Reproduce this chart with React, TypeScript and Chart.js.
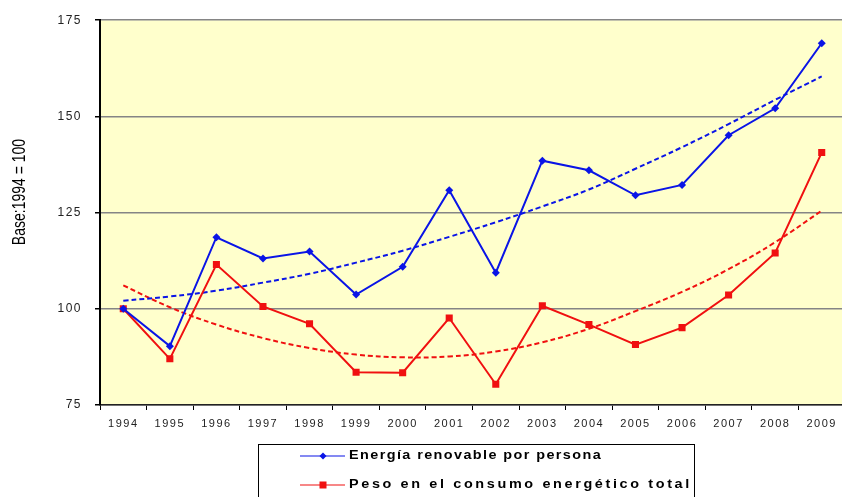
import React, { useEffect, useRef } from "react";
import { Chart, registerables } from "chart.js";

Chart.register(...registerables);

const years = ["1994", "1995", "1996", "1997", "1998", "1999", "2000", "2001", "2002", "2003", "2004", "2005", "2006", "2007", "2008", "2009"];
const renewablePerPerson = [100, 90.3, 118.6, 113.1, 114.9, 103.7, 110.9, 130.8, 109.4, 138.5, 136.0, 129.5, 132.2, 145.1, 152.1, 169.0];
const shareOfTotal = [100, 87.0, 111.5, 100.6, 96.1, 83.5, 83.4, 97.6, 80.4, 100.8, 95.9, 90.7, 95.1, 103.6, 114.5, 140.6];
const renewableTrend = [102.1, 103.2, 104.7, 106.8, 109.1, 112.0, 115.1, 118.7, 122.5, 126.6, 131.0, 136.4, 142.0, 148.0, 154.3, 160.4];
const shareTrend = [106.1, 100.4, 95.9, 92.4, 89.8, 88.1, 87.4, 87.6, 88.9, 91.3, 94.8, 99.4, 104.4, 110.3, 117.3, 125.5];
const yTicks = [75, 100, 125, 150, 175];
const seriesNames = ["Energía renovable por persona", "Peso en el consumo energético total"];
const axisTitle = "Base:1994 = 100";

const BLUE = "#0a14e6";
const RED = "#f01010";

const decorPlugin = {
  id: "decor",
  beforeDraw(chart: any) {
    const { ctx, chartArea } = chart;
    ctx.save();
    ctx.fillStyle = "#ffffcc";
    ctx.fillRect(chartArea.left, chartArea.top, chartArea.right - chartArea.left, chartArea.bottom - chartArea.top);
    ctx.restore();
    ctx.letterSpacing = "1.5px";
  },
  afterDraw(chart: any) {
    const { ctx } = chart;
    ctx.save();
    ctx.letterSpacing = "0px";
    // y axis title
    ctx.save();
    ctx.translate(19.5, 192);
    ctx.scale(1.35, 1);
    ctx.rotate(-Math.PI / 2);
    ctx.fillStyle = "#000";
    ctx.font = "14px 'Liberation Sans', Arial, sans-serif";
    ctx.textAlign = "center";
    ctx.textBaseline = "middle";
    ctx.fillText(axisTitle, 0, 0);
    ctx.restore();

    // legend box
    ctx.strokeStyle = "#000";
    ctx.lineWidth = 1;
    ctx.strokeRect(258.5, 444.5, 436, 80);
    const rows = [
      { y: 456, color: BLUE, style: "diamond", text: seriesNames[0], width: 253 },
      { y: 485, color: RED, style: "square", text: seriesNames[1], width: 343 },
    ];
    rows.forEach((r) => {
      ctx.strokeStyle = r.color;
      ctx.lineWidth = 1.2;
      ctx.beginPath();
      ctx.moveTo(300, r.y);
      ctx.lineTo(345, r.y);
      ctx.stroke();
      ctx.fillStyle = r.color;
      ctx.beginPath();
      if (r.style === "diamond") {
        ctx.moveTo(323, r.y - 3.5);
        ctx.lineTo(326.5, r.y);
        ctx.lineTo(323, r.y + 3.5);
        ctx.lineTo(319.5, r.y);
        ctx.closePath();
        ctx.fill();
      } else {
        ctx.fillRect(319.5, r.y - 3.5, 7, 7);
      }
      const sx = 1.2;
      ctx.font = "bold 12px 'Liberation Sans', Arial, sans-serif";
      ctx.letterSpacing = "0px";
      const natural = ctx.measureText(r.text).width;
      const n = r.text.length;
      const sp = Math.max(0, (r.width / sx - natural) / n);
      ctx.letterSpacing = sp.toFixed(2) + "px";
      ctx.save();
      ctx.translate(349, r.y);
      ctx.scale(sx, 1);
      ctx.fillStyle = "#000";
      ctx.textAlign = "left";
      ctx.textBaseline = "middle";
      ctx.fillText(r.text, 0, 0);
      ctx.restore();
    });
    ctx.restore();
  },
};

export default function App() {
  const ref = useRef<HTMLCanvasElement | null>(null);
  useEffect(() => {
    if (!ref.current) return;
    const chart = new Chart(ref.current, {
      type: "line",
      data: {
        labels: years,
        datasets: [
          {
            label: seriesNames[0],
            data: renewablePerPerson,
            borderColor: BLUE,
            backgroundColor: BLUE,
            borderWidth: 2,
            pointStyle: "rectRot",
            pointRadius: 4,
            pointBorderWidth: 0,
            tension: 0,
          },
          {
            label: seriesNames[1],
            data: shareOfTotal,
            borderColor: RED,
            backgroundColor: RED,
            borderWidth: 2,
            pointStyle: "rect",
            pointRadius: 5,
            pointBorderWidth: 0,
            tension: 0,
          },
          {
            label: "Tendencia " + seriesNames[0],
            data: renewableTrend,
            borderColor: BLUE,
            borderWidth: 2,
            borderDash: [5, 3],
            pointRadius: 0,
            tension: 0.4,
          },
          {
            label: "Tendencia " + seriesNames[1],
            data: shareTrend,
            borderColor: RED,
            borderWidth: 2,
            borderDash: [5, 3],
            pointRadius: 0,
            tension: 0.4,
          },
        ],
      },
      options: {
        responsive: false,
        animation: false,
        layout: { padding: { top: 18, left: 0, right: 0, bottom: 0 } },
        plugins: { legend: { display: false }, tooltip: { enabled: false } },
        scales: {
          x: {
            type: "category",
            offset: true,
            grid: { display: true, drawOnChartArea: false, drawTicks: true, tickLength: 5, tickColor: "#000", offset: true, lineWidth: 1 },
            border: { display: true, color: "#222", width: 1.5 },
            ticks: {
              color: "#222",
              font: { family: "'Liberation Sans', Arial, sans-serif", size: 11 },
              padding: 7,
              maxRotation: 0,
              autoSkip: false,
            },
            afterFit: (s: any) => {
              s.height = 92;
            },
          },
          y: {
            min: 75,
            max: 175,
            afterBuildTicks: (s: any) => {
              s.ticks = yTicks.map((v) => ({ value: v }));
            },
            grid: { color: "#858585", lineWidth: 1.5, tickLength: 5, tickColor: "#000", drawTicks: true },
            border: { display: true, color: "#000", width: 2 },
            ticks: {
              color: "#222",
              font: { family: "'Liberation Sans', Arial, sans-serif", size: 12 },
              padding: 13,
            },
            afterFit: (s: any) => {
              s.width = 100;
            },
          },
        },
      },
      plugins: [decorPlugin],
    });
    return () => chart.destroy();
  }, []);
  return (
    <div style={{ position: "fixed", left: 0, top: 0, width: 842, height: 497, overflow: "hidden", background: "#fff" }}>
      <canvas ref={ref} width={850} height={497} style={{ display: "block" }} />
    </div>
  );
}
